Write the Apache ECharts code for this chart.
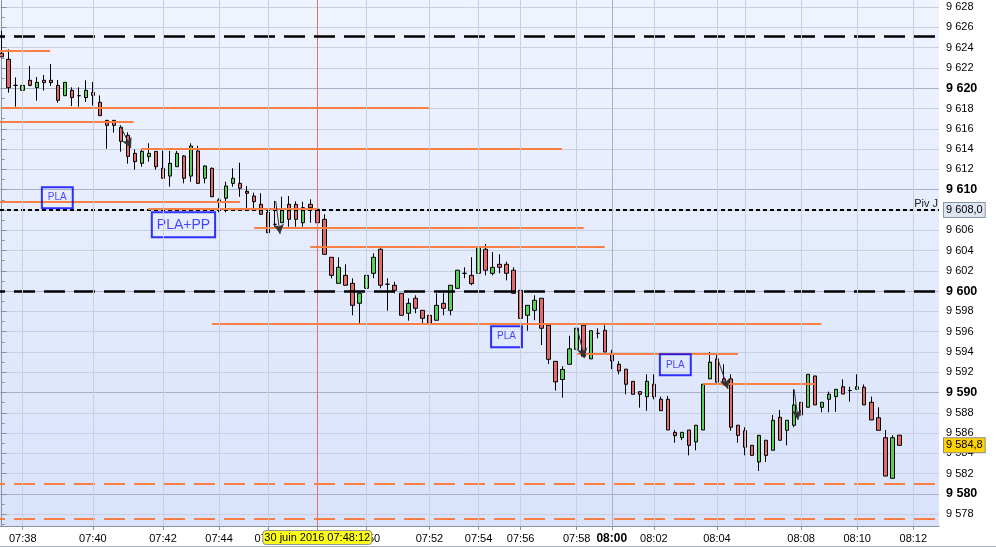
<!DOCTYPE html>
<html><head><meta charset="utf-8">
<script src="https://cdn.jsdelivr.net/npm/echarts@6/dist/echarts.min.js"></script>
<style>html,body{margin:0;padding:0;background:#fff}#c{width:996px;height:547px}</style>
</head><body><div id="c"></div>
<script>
// ---------------- DATA ----------------
const candleOpen = [9623.45,9622.86,9620.29,9619.8,9620.79,9620.06,9620.79,9620.79,9620.29,9619.27,
9619.8,9619.27,9619.08,9619.6,9618.62,9616.84,9616.84,9616.15,9615.37,9613.59,
9612.6,9613.26,9613.78,9612.11,9611.35,9612.27,9613.33,9611.35,9613.82,9611.13,
9612.11,9609.0,9609.16,9610.63,9610.63,9609.84,9609.38,9608.56,9607.77,9606.59,
9606.75,9608.56,9608.56,9606.75,9608.56,9608.07,9607.08,9603.34,9600.77,9601.56,
9600.77,9598.8,9600.28,9601.76,9604.13,9600.68,9600.58,9599.79,9597.82,9599.3,
9598.11,9597.62,9597.13,9598.8,9598.11,9600.28,9601.76,9601.56,9601.76,9604.13,
9601.76,9602.65,9602.65,9602.06,9600.08,9597.62,9598.11,9599.3,9596.64,9593.08,
9591.29,9592.79,9594.27,9596.64,9593.32,9595.84,9596.14,9593.78,9592.79,9592.31,
9591.11,9590.09,9589.59,9590.82,9589.34,9589.34,9586.08,9585.55,9586.31,9585.13,
9586.31,9591.35,9593.32,9591.35,9591.35,9586.78,9586.24,9584.8,9583.16,9585.3,
9584.31,9587.56,9586.28,9586.78,9589.04,9588.55,9591.64,9588.55,9589.34,9589.6,
9590.58,9590.2,9590.32,9590.53,9589.04,9587.52,9585.55,9581.55,9585.8];
const candleClose = [9623.1,9620.06,9620.29,9620.29,9620.29,9620.59,9620.56,9620.56,9618.81,9620.59,
9619.08,9619.27,9619.8,9619.3,9617.3,9616.35,9616.35,9614.77,9613.29,9612.77,
9613.78,9613.59,9612.27,9611.13,9612.6,9613.59,9611.13,9614.31,9610.63,9612.34,
9609.31,9608.8,9610.37,9611.13,9610.14,9609.65,9608.82,9607.58,9605.76,9606.59,
9608.07,9607.08,9607.08,9608.23,9608.23,9606.75,9603.63,9601.56,9602.35,9600.58,
9598.6,9599.79,9601.56,9603.34,9600.58,9600.68,9600.08,9597.62,9598.8,9598.31,
9597.32,9596.83,9598.6,9598.31,9600.58,9602.06,9601.76,9600.74,9604.33,9602.06,
9602.35,9602.35,9601.76,9599.79,9597.32,9598.6,9599.1,9596.34,9593.28,9591.05,
9592.28,9594.31,9596.34,9593.59,9596.1,9595.84,9594.0,9593.12,9592.13,9590.82,
9589.83,9589.83,9591.11,9589.59,9588.21,9586.31,9585.75,9586.08,9584.8,9586.78,
9590.82,9593.0,9591.03,9591.03,9586.58,9585.78,9584.6,9583.81,9585.78,9583.81,
9587.27,9585.3,9587.27,9588.78,9587.79,9591.8,9588.78,9589.04,9589.83,9590.32,
9589.86,9590.2,9590.58,9588.78,9587.3,9586.28,9581.77,9585.55,9584.8];
const candleLow = [9623.1,9619.57,9618.19,9618.78,9620.2,9618.78,9619.77,9620.23,9618.58,9619.25,
9618.25,9618.19,9618.65,9618.29,9617.3,9614.05,9615.63,9613.75,9612.57,9611.98,
9612.27,9612.77,9611.98,9611.1,9610.3,9612.27,9610.63,9610.79,9610.6,9610.63,
9609.3,9607.77,9607.77,9610.3,9609.31,9608.17,9608.17,9607.5,9605.76,9606.35,
9606.75,9606.35,9606.35,9606.35,9606.75,9606.75,9603.63,9601.27,9600.77,9600.58,
9597.62,9596.83,9599.79,9601.27,9600.28,9598.08,9599.79,9597.62,9597.09,9597.82,
9596.83,9596.83,9597.13,9597.62,9597.62,9600.28,9601.27,9600.58,9600.58,9601.56,
9601.56,9601.76,9601.07,9599.79,9597.32,9596.1,9597.13,9594.69,9592.82,9590.2,
9589.5,9592.79,9594.27,9593.5,9593.32,9595.35,9594.0,9592.31,9591.8,9589.83,
9589.83,9588.51,9588.21,9589.34,9588.2,9586.31,9585.06,9585.31,9583.81,9584.31,
9586.31,9591.35,9591.0,9590.7,9586.24,9585.06,9583.81,9583.81,9582.27,9583.16,
9584.31,9585.3,9584.8,9586.58,9587.79,9588.55,9588.78,9588.06,9588.06,9588.1,
9589.86,9589.1,9590.3,9588.78,9587.3,9586.28,9581.77,9581.55,9584.8];
const candleHigh = [9625.65,9623.84,9621.07,9620.62,9622.2,9621.11,9621.31,9622.4,9620.82,9620.6,
9620.1,9620.1,9620.79,9620.62,9619.3,9616.84,9616.84,9616.35,9615.66,9613.98,
9613.98,9614.58,9613.78,9613.85,9613.82,9613.82,9613.4,9614.58,9614.34,9612.4,
9612.2,9609.16,9610.79,9612.11,9612.66,9610.37,9609.71,9609.65,9608.17,9608.89,
9609.31,9609.38,9608.86,9608.82,9609.06,9608.66,9607.58,9603.34,9603.34,9602.65,
9601.27,9599.8,9601.76,9603.73,9604.23,9601.27,9600.93,9599.8,9599.3,9599.59,
9598.11,9598.8,9599.79,9599.79,9600.58,9602.1,9602.35,9603.34,9604.82,9604.65,
9603.86,9603.63,9602.9,9602.35,9600.28,9598.6,9599.59,9599.3,9596.64,9593.1,
9592.6,9595.6,9596.6,9596.64,9596.1,9596.34,9596.64,9594.21,9593.1,9592.31,
9591.11,9590.09,9591.8,9591.8,9589.6,9589.66,9586.31,9586.08,9586.31,9586.8,
9590.82,9594.0,9593.8,9592.79,9591.8,9586.78,9586.58,9584.8,9585.8,9585.3,
9587.79,9588.28,9587.27,9590.32,9589.04,9591.8,9591.64,9589.04,9590.09,9590.32,
9591.3,9590.58,9591.8,9590.8,9589.6,9588.55,9586.31,9585.8,9585.8];

// time axis (candle index -> label)
const timeIdx   = [3,13,23,31,38,45,52,61,68,74,82,87,93,102,114,122,130];
const timeText  = ['07:38','07:40','07:42','07:44','07:46','07:48','07:50','07:52','07:54','07:56','07:58','08:00','08:02','08:04','08:08','08:10','08:12'];
const gridOnlyIdx = [106];
const boldTime = '08:00';
const cursorIdx = 45;
const cursorText = '30 juin 2016 07:48:12';

// price axis
const yMin = 9576, yMax = 9630, yStep = 2;
const xMin = -0.2424, xMax = 133.66;

// horizontal levels
const blackDashLevels  = [9625.1, 9600];
const orangeDashLevels = [9581.0, 9577.6];
const pivotLevel = 9608.0;
const pivotName = 'Piv J';
const lastPrice = 9584.8;

const levelValue = [9623.68, 9618.06, 9616.71, 9614.02, 9608.82, 9608.13, 9606.26, 9604.38, 9596.8, 9593.84, 9590.88];
const levelFrom  = [xMin, -0.1, xMin, 19.9, xMin, 20.9, 36, 44, 30, 82.1, 100];
const levelTo    = [6.9, 60.9, 18.8, 79.9, 34, 45, 83, 86, 116.9, 105, 115.9];

// annotations
const noteText  = ['PLA', 'PLA+PP', 'PLA', 'PLA'];
const noteIdx   = [7.93, 25.92, 71.99, 96.06];
const noteValue = [9609.21, 9606.54, 9595.51, 9592.74];
const noteBig   = [false, true, false, false];

const arrowFromIdx = [16.87, 39.07, 82.08, 102.0, 113.0];
const arrowFromVal = [9616.38, 9608.89, 9596.38, 9593.54, 9590.32];
const arrowToIdx   = [18.44, 39.69, 83.09, 103.57, 113.56];
const arrowToVal   = [9614.11, 9605.63, 9593.39, 9590.35, 9587.3];

// ---------------- HELPERS ----------------
function fmtPrice(v, dec) {
  const s = v.toFixed(dec);
  const parts = s.split('.');
  const ip = parts[0];
  const head = ip.length > 3 ? ip.slice(0, ip.length - 3) + ' ' + ip.slice(-3) : ip;
  return parts.length > 1 ? head + ',' + parts[1] : head;
}

const FONT = '"Liberation Sans", Arial, sans-serif';
const ORANGE = '#fb7f42';
const AXIS_C = '#8593a2';
const GRID_L = '#c9cfe2';
const GRID_D = '#a9b0c7';
const CURSOR_C = '#e8706a';
const HIDDEN = 'rgba(0,0,0,0)';

const candleData = candleOpen.map((o, i) => [i, o, candleClose[i], candleLow[i], candleHigh[i]]);

const nCats = timeIdx[timeIdx.length - 1] + 1;
const cats = [];
for (let i = 0; i < nCats; i++) cats.push('');
timeIdx.forEach((ix, k) => { cats[ix] = timeText[k]; });
const labelSet = new Set(timeIdx);
// grey vertical grid lines (the cursor minute gets the red cursor line instead)
const gridIdx = timeIdx.concat(gridOnlyIdx).filter(i => i !== cursorIdx).sort((a, b) => a - b);
const gridSet = new Set(gridIdx);
const boldIdx = timeIdx[timeText.indexOf(boldTime)];
const xGridColors = gridIdx.map(i => i === boldIdx ? GRID_D : GRID_L);

// y split line colours: darker every 10 points
const yGridColors = [];
for (let v = yMin; v <= yMax; v += yStep) yGridColors.push(v % 10 === 0 ? GRID_D : GRID_L);

// mark lines
const markData = [];
markData.push({
  xAxis: cursorIdx, label: {show: false},
  lineStyle: {color: CURSOR_C, width: 1, type: 'solid'}
});
blackDashLevels.forEach(v => markData.push({
  yAxis: v, label: {show: false},
  lineStyle: {color: '#000', width: 2.5, type: [21, 9], dashOffset: 16}
}));
orangeDashLevels.forEach(v => markData.push({
  yAxis: v, label: {show: false},
  lineStyle: {color: ORANGE, width: 2, type: [21, 9], dashOffset: 16}
}));
markData.push({
  yAxis: pivotLevel,
  lineStyle: {color: '#000', width: 2, type: [4, 3]},
  label: {show: true, position: 'insideEndTop', formatter: pivotName, color: '#222',
          fontSize: 11, fontFamily: FONT, distance: 1}
});
markData.push({
  yAxis: pivotLevel,
  lineStyle: {color: HIDDEN, width: 0},
  label: {show: true, position: 'end', formatter: fmtPrice(pivotLevel, 1), color: '#000',
          fontSize: 11, fontFamily: FONT, distance: 5, backgroundColor: '#dfe6f2',
          borderColor: '#8796a6', borderWidth: 1, padding: [2, 2, 1, 2]}
});
markData.push({
  yAxis: lastPrice,
  lineStyle: {color: HIDDEN, width: 0},
  label: {show: true, position: 'end', formatter: fmtPrice(lastPrice, 1), color: '#000',
          fontSize: 11, fontFamily: FONT, distance: 5, backgroundColor: '#ffd200',
          borderColor: '#8a8a8a', borderWidth: 1, padding: [2, 2, 1, 2]}
});
levelValue.forEach((v, k) => markData.push([
  {coord: [levelFrom[k], v], lineStyle: {color: ORANGE, width: 2, type: 'solid'}, label: {show: false}},
  {coord: [levelTo[k], v]}
]));

const arrowData = arrowFromIdx.map((x, k) => [
  {coord: [x, arrowFromVal[k]]},
  {coord: [arrowToIdx[k], arrowToVal[k]]}
]);

const noteData = noteText.map((t, k) => ({
  value: [noteIdx[k], noteValue[k], t],
  label: noteBig[k]
    ? {fontSize: 14, lineHeight: 15, padding: [5, 5, 5, 5]}
    : {fontSize: 10, lineHeight: 11, padding: [5, 6, 5, 6]}
}));

// ---------------- CHART ----------------
const chart = echarts.init(document.getElementById('c'), null, {renderer: 'canvas'});
chart.setOption({
  animation: false,
  backgroundColor: '#fff',
  textStyle: {fontFamily: FONT},
  grid: [
    {left: 0, top: -13.125, width: 939, height: 547.7, show: true, borderWidth: 0,
     outerBoundsMode: 'none', containLabel: false,
     backgroundColor: {type: 'linear', x: 0, y: 0, x2: 0, y2: 1,
       colorStops: [{offset: 0, color: '#f0f4fe'}, {offset: 1, color: '#d8e2fb'}]}},
    {left: 1.7, top: 0, width: 911.625, height: 526, show: false,
     outerBoundsMode: 'none', containLabel: false}
  ],
  xAxis: [
    {type: 'value', gridIndex: 0, min: xMin, max: xMax, offset: -8.57, z: 60,
     axisLine: {show: true, onZero: false, lineStyle: {color: AXIS_C, width: 1}},
     axisTick: {show: false}, axisLabel: {show: false}, splitLine: {show: false}},
    {type: 'category', gridIndex: 1, boundaryGap: false, data: cats, z: 60,
     axisLine: {show: false},
     axisTick: {show: true, interval: (i) => labelSet.has(i), length: 4,
                lineStyle: {color: AXIS_C}},
     axisLabel: {show: true, interval: (i) => labelSet.has(i), margin: 7,
                 color: '#000', fontSize: 11, fontFamily: FONT,
                 formatter: (v) => v === boldTime ? '{b|' + v + '}' : v,
                 rich: {b: {fontWeight: 'bold', fontSize: 12, fontFamily: FONT, color: '#000'}}},
     splitLine: {show: true, interval: (i) => gridSet.has(i),
                 lineStyle: {color: xGridColors, width: 1}},
     axisPointer: {show: true, status: 'show', value: cursorIdx, type: 'line', snap: false,
                   triggerTooltip: false, z: 100,
                   lineStyle: {color: HIDDEN, width: 0, opacity: 0},
                   label: {show: true, formatter: () => cursorText, margin: 5,
                           backgroundColor: '#ffff1a', borderColor: '#8d9aa0', borderWidth: 1,
                           color: '#000', fontSize: 11, fontFamily: FONT, padding: [1, 1, 1, 1]}}}
  ],
  yAxis: [
    {type: 'value', gridIndex: 0, position: 'right', min: yMin, max: yMax, interval: yStep,
     axisLine: {show: true, lineStyle: {color: AXIS_C, width: 1}},
     axisTick: {show: true, length: 5, lineStyle: {color: AXIS_C}},
     minorTick: {show: true, splitNumber: 2, length: 3, lineStyle: {color: AXIS_C}},
     axisLabel: {show: true, margin: 7, color: '#000', fontFamily: FONT, fontSize: 11,
                 formatter: (v) => (v % 10 === 0 ? '{b|' : '{n|') + fmtPrice(v, 0) + '}',
                 rich: {b: {fontWeight: 'bold', fontSize: 12.5, fontFamily: FONT, color: '#000'},
                        n: {fontSize: 11, fontFamily: FONT, color: '#000'}}},
     splitLine: {show: true, lineStyle: {color: yGridColors, width: 1}}},
    {type: 'value', gridIndex: 1, min: 0, max: 1, show: false}
  ],
  series: [
    {type: 'candlestick', xAxisIndex: 0, yAxisIndex: 0, data: candleData,
     encode: {x: 0, y: [1, 2, 3, 4]}, barWidth: 4, z: 2,
     itemStyle: {color: '#55d155', color0: '#e46a6a', borderColor: '#000', borderColor0: '#000',
                 borderWidth: 1}},
    {type: 'line', xAxisIndex: 0, yAxisIndex: 0, data: [], z: 3, silent: true,
     markLine: {silent: true, symbol: ['none', 'none'], animation: false, data: markData}},
    {type: 'line', xAxisIndex: 0, yAxisIndex: 0, data: [], z: 4, silent: true,
     markLine: {silent: true, symbol: ['none', 'arrow'], symbolSize: [8, 10], animation: false,
                label: {show: false}, lineStyle: {color: '#333', width: 1, type: 'solid'},
                data: arrowData}},
    {type: 'scatter', xAxisIndex: 0, yAxisIndex: 0, data: noteData, z: 5, silent: true,
     symbolSize: 1, itemStyle: {color: HIDDEN},
     label: {show: true, position: 'inside', formatter: (p) => p.data.value[2],
             color: '#1a1aff', fontFamily: FONT, backgroundColor: 'transparent',
             textBorderWidth: 0, borderColor: '#0000ff', borderWidth: 1}}
  ],
  graphic: [
    {type: 'rect', shape: {x: 0, y: 526.5, width: 996, height: 21}, style: {fill: '#fff'}, z: 50, silent: true},
    {type: 'line', shape: {x1: 0, y1: 546.5, x2: 996, y2: 546.5}, style: {stroke: '#a8b2bc', lineWidth: 1}, z: 55, silent: true}
  ]
});
</script>
</body></html>
